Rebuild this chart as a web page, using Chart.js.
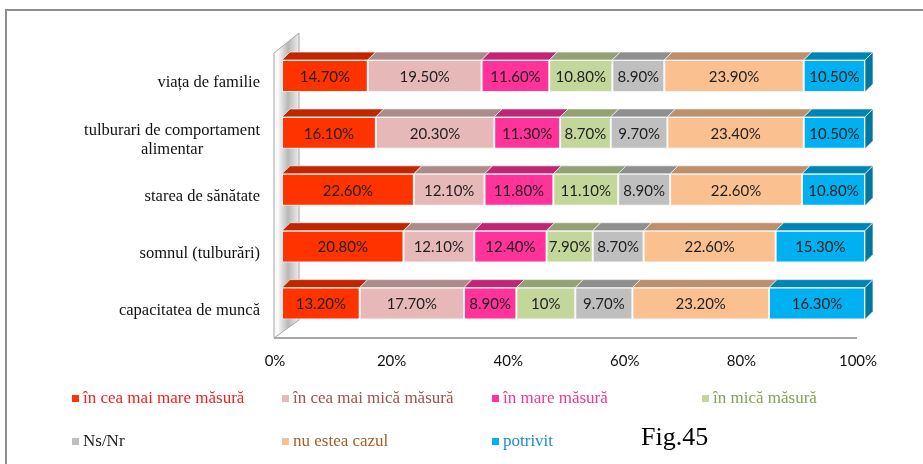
<!DOCTYPE html>
<html>
<head>
<meta charset="utf-8">
<script src="https://cdn.jsdelivr.net/npm/chart.js@4.4.0/dist/chart.umd.min.js"></script>
<style>
    html, body { margin: 0; padding: 0; background: #fff; }
    body { width: 923px; height: 464px; position: relative; overflow: hidden; }
    .frame {
        position: absolute; left: 5px; top: 9px; width: 1000px; height: 600px;
        border-left: 2px solid #8e8e8e; border-top: 2px solid #8e8e8e;
    }
    #chart { position: absolute; left: 0; top: 0; }
    .legend-item {
        position: absolute; font-family: "Liberation Serif", serif; font-size: 17px;
        line-height: 20px; white-space: nowrap;
    }
    .legend-item i {
        display: inline-block; width: 7px; height: 7px; margin-right: 4px;
        vertical-align: 1px;
    }
    .fig {
        position: absolute; left: 641px; top: 422px; font-family: "Liberation Serif", serif;
        font-size: 26px; line-height: 30px; color: #000;
    }
</style>
</head>
<body>
<div class="frame"></div>
<canvas id="chart" width="923" height="464"></canvas>
<div id="legend"></div>
<div class="fig">Fig.45</div>

<script>
// Categories, top to bottom
const categories = [
    ['viața de familie'],
    ['tulburari de comportament', 'alimentar'],
    ['starea de sănătate'],
    ['somnul (tulburări)'],
    ['capacitatea de muncă']
];

// Answer series (percent)
const ceaMaiMare = [14.7, 16.1, 22.6, 20.8, 13.2];
const ceaMaiMica = [19.5, 20.3, 12.1, 12.1, 17.7];
const mareMasura = [11.6, 11.3, 11.8, 12.4, 8.9];
const micaMasura = [10.8, 8.7, 11.1, 7.9, 10];
const nsNr = [8.9, 9.7, 8.9, 8.7, 9.7];
const nuEsteaCazul = [23.9, 23.4, 22.6, 22.6, 23.2];
const potrivit = [10.5, 10.5, 10.8, 15.3, 16.3];

const xTicks = [0, 20, 40, 60, 80, 100];

// name, values, front colour, top colour, legend text colour
const series = [
    { name: 'în cea mai mare măsură', values: ceaMaiMare, front: '#FF3300', top: '#C02600', text: '#F41E1E' },
    { name: 'în cea mai mică măsură', values: ceaMaiMica, front: '#E6B9B8', top: '#AD8B8A', text: '#A0504E' },
    { name: 'în mare măsură', values: mareMasura, front: '#FF3399', top: '#BF2673', text: '#F2368F' },
    { name: 'în mică măsură', values: micaMasura, front: '#C4D79B', top: '#93A174', text: '#86A050' },
    { name: 'Ns/Nr', values: nsNr, front: '#BFBFBF', top: '#8F8F8F', text: '#1a1a1a' },
    { name: 'nu estea cazul', values: nuEsteaCazul, front: '#FAC090', top: '#BC906C', text: '#A0602A' },
    { name: 'potrivit', values: potrivit, front: '#00B0F0', top: '#0084B4', side: '#00779F', text: '#1E8AD6' }
];

// 100% stacked: each bar is its share of the row total
const rowTotals = categories.map((c, j) => series.reduce((s, d) => s + d.values[j], 0));

function formatPct(v) {
    return Number.isInteger(v) ? v + '%' : v.toFixed(2) + '%';
}

const DEPTH = 8;

// Side wall and floor behind the bars
const wallPlugin = {
    id: 'wall',
    beforeDatasetsDraw(chart) {
        const ctx = chart.ctx;
        const a = chart.chartArea;
        const x0 = a.left - 8, x1 = a.left + 17;
        ctx.save();
        // outer slab
        ctx.beginPath();
        ctx.moveTo(x0, a.top + 5.5);
        ctx.lineTo(x1, a.top - 14.5);
        ctx.lineTo(x1, a.bottom - 12);
        ctx.lineTo(x0, a.bottom + 6);
        ctx.closePath();
        ctx.fillStyle = '#fafafa';
        ctx.fill();
        // shaded inner face
        const g = ctx.createLinearGradient(x0 + 5, 0, x1, 0);
        g.addColorStop(0, '#f2f2f2');
        g.addColorStop(0.45, '#b8b8b8');
        g.addColorStop(1, '#ededed');
        ctx.beginPath();
        ctx.moveTo(x0 + 5, a.top + 1.5);
        ctx.lineTo(x1, a.top - 14.5);
        ctx.lineTo(x1, a.bottom - 12);
        ctx.lineTo(x0 + 5, a.bottom + 2);
        ctx.closePath();
        ctx.fillStyle = g;
        ctx.fill();
        ctx.beginPath();
        ctx.moveTo(x0, a.top + 5.5);
        ctx.lineTo(x1, a.top - 14.5);
        ctx.lineTo(x1, a.bottom - 12);
        ctx.lineTo(x0, a.bottom + 6);
        ctx.closePath();
        ctx.strokeStyle = '#a6a6a6';
        ctx.lineWidth = 1;
        ctx.stroke();
        // floor edge
        ctx.beginPath();
        ctx.moveTo(x0, a.bottom + 6);
        ctx.lineTo(a.right - 8, a.bottom + 6);
        ctx.strokeStyle = '#a6a6a6';
        ctx.lineWidth = 2;
        ctx.stroke();
        ctx.restore();
    }
};

// Top and side faces, value labels, category labels
const facesPlugin = {
    id: 'faces',
    afterDatasetsDraw(chart) {
        const ctx = chart.ctx;
        ctx.save();
        ctx.lineWidth = 0.8;
        ctx.strokeStyle = 'rgba(245,245,245,0.9)';
        series.forEach((s, i) => {
            const meta = chart.getDatasetMeta(i);
            meta.data.forEach(bar => {
                const p = bar.getProps(['x', 'y', 'base', 'height'], true);
                const l = Math.min(p.x, p.base), r = Math.max(p.x, p.base);
                const t = p.y - p.height / 2, b = p.y + p.height / 2;
                ctx.beginPath();
                ctx.moveTo(l, t);
                ctx.lineTo(l + DEPTH, t - DEPTH);
                ctx.lineTo(r + DEPTH, t - DEPTH);
                ctx.lineTo(r, t);
                ctx.closePath();
                ctx.fillStyle = s.top;
                ctx.fill();
                ctx.stroke();
                if (s.side) {
                    ctx.beginPath();
                    ctx.moveTo(r, t);
                    ctx.lineTo(r + DEPTH, t - DEPTH);
                    ctx.lineTo(r + DEPTH, b - DEPTH);
                    ctx.lineTo(r, b);
                    ctx.closePath();
                    ctx.fillStyle = s.side;
                    ctx.fill();
                    ctx.stroke();
                }
            });
        });

        ctx.font = '15px Lato';
        ctx.fillStyle = '#1f1f1f';
        ctx.textAlign = 'center';
        ctx.textBaseline = 'middle';
        series.forEach((s, i) => {
            chart.getDatasetMeta(i).data.forEach((bar, j) => {
                const p = bar.getProps(['x', 'y', 'base'], true);
                ctx.fillText(formatPct(s.values[j]), (p.x + p.base) / 2, p.y + 1);
            });
        });

        // category labels: block right-aligned, lines centred in the block
        const yScale = chart.scales.y;
        ctx.font = '16.5px "Liberation Serif"';
        ctx.fillStyle = '#111';
        const right = chart.chartArea.left - 22;
        const lh = 19;
        categories.forEach((lines, j) => {
            const cy = yScale.getPixelForValue(j) + 7;
            const w = Math.max(...lines.map(t => ctx.measureText(t).width));
            const cx = right - w / 2;
            lines.forEach((t, k) => {
                ctx.fillText(t, cx, cy + (k - (lines.length - 1) / 2) * lh);
            });
        });
        ctx.restore();
    }
};

new Chart(document.getElementById('chart'), {
    type: 'bar',
    data: {
        labels: categories,
        datasets: series.map(s => ({
            label: s.name,
            data: s.values.map((v, j) => v / rowTotals[j] * 100),
            backgroundColor: s.front,
            borderColor: 'rgba(242,242,242,0.95)',
            borderWidth: 1,
            borderSkipped: false,
            categoryPercentage: 1,
            barPercentage: 0.56
        }))
    },
    options: {
        indexAxis: 'y',
        responsive: false,
        animation: false,
        events: [],
        layout: { padding: { left: 0, right: 58, top: 47.5, bottom: 0 } },
        plugins: { legend: { display: false }, tooltip: { enabled: false } },
        scales: {
            x: {
                stacked: true,
                min: 0,
                max: 100,
                afterBuildTicks: scale => { scale.ticks = xTicks.map(v => ({ value: v })); },
                afterFit: scale => { scale.height = 132; },
                ticks: {
                    callback: v => v + '%',
                    labelOffset: -7,
                    padding: 20,
                    maxRotation: 0,
                    color: '#111',
                    font: { family: 'Lato', size: 15 }
                },
                grid: { display: false, drawTicks: false },
                border: { display: false }
            },
            y: {
                stacked: true,
                afterFit: scale => { scale.width = 282; },
                ticks: { display: false },
                grid: { display: false, drawTicks: false },
                border: { display: false }
            }
        }
    },
    plugins: [wallPlugin, facesPlugin]
});

// Legend in fixed columns
const legend = document.getElementById('legend');
series.forEach((s, i) => {
    const item = document.createElement('div');
    item.className = 'legend-item';
    item.style.left = (72 + (i % 4) * 210) + 'px';
    item.style.top = (388 + Math.floor(i / 4) * 43) + 'px';
    item.style.color = s.text;
    item.innerHTML = '<i style="background:' + s.front + '"></i>' + s.name;
    legend.appendChild(item);
});
</script>
</body>
</html>
